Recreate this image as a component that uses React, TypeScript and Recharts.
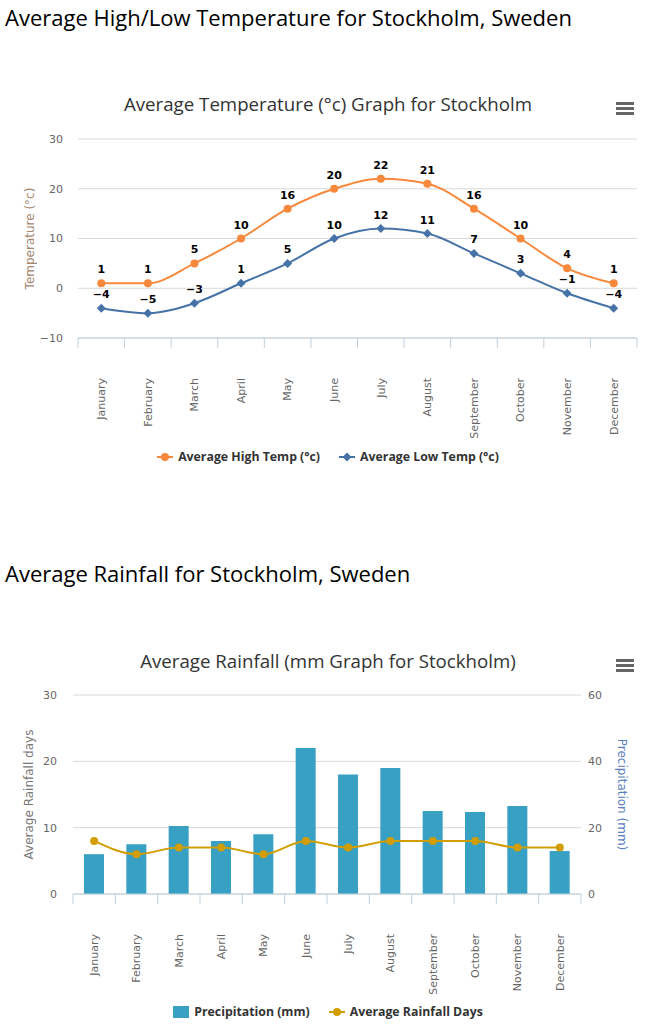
import React from "react";
import {
  Bar,
  CartesianGrid,
  ComposedChart,
  LabelList,
  Line,
  XAxis,
  YAxis,
} from "recharts";

const MONTHS = [
  "January",
  "February",
  "March",
  "April",
  "May",
  "June",
  "July",
  "August",
  "September",
  "October",
  "November",
  "December",
];
const HIGH_TEMP = [1, 1, 5, 10, 16, 20, 22, 21, 16, 10, 4, 1];
const LOW_TEMP = [-4, -5, -3, 1, 5, 10, 12, 11, 7, 3, -1, -4];
const PRECIP_MM = [12, 15, 20.5, 16, 18, 44, 36, 38, 25, 24.7, 26.5, 13];
const RAIN_DAYS = [8, 6, 7, 7, 6, 8, 7, 8, 8, 8, 7, 7];

const TEMP_TICKS = [-10, 0, 10, 20, 30];
const DAYS_TICKS = [0, 10, 20, 30];
const PRECIP_TICKS = [0, 20, 40, 60];

const ORANGE = "#f7883c";
const BLUE = "#4572a7";
const BAR_BLUE = "#38a0c3";
const GOLD = "#d19d00";
const AXIS = "#c0d0e0";
const GRID = "#d8d8d8";
const TICK_FONT = "'DejaVu Sans', Verdana, sans-serif";
const TITLE_FONT = "'Open Sans', sans-serif";

const tempData = MONTHS.map((m, i) => ({ month: m, high: HIGH_TEMP[i], low: LOW_TEMP[i] }));
const rainData = MONTHS.map((m, i) => ({ month: m, precip: PRECIP_MM[i], days: RAIN_DAYS[i] }));

// highcharts-style minus sign
const fmtNum = (v: number) => (v < 0 ? `\u2212${Math.abs(v)}` : `${v}`);

// month labels + boundary tick marks (categories get ticks at their edges, not centres)
function monthTick(band: number) {
  return (props: any) => {
    const { x, y, payload, index } = props;
    return (
      <g>
        <line x1={x - band / 2} y1={y} x2={x - band / 2} y2={y + 10} stroke={AXIS} />
        {index === MONTHS.length - 1 && (
          <line x1={x + band / 2} y1={y} x2={x + band / 2} y2={y + 10} stroke={AXIS} />
        )}
        <text
          transform={`translate(${x},${y + 40}) rotate(-90)`}
          textAnchor="end"
          dy="0.35em"
          fill="#666"
          fontSize={11}
          fontFamily={TICK_FONT}
        >
          {payload.value}
        </text>
      </g>
    );
  };
}

function Diamond(props: any) {
  const { cx, cy } = props;
  if (cx == null || cy == null) return null;
  const r = 4.5;
  return (
    <path
      d={`M${cx} ${cy - r}L${cx + r} ${cy}L${cx} ${cy + r}L${cx - r} ${cy}Z`}
      fill={BLUE}
    />
  );
}

function Hamburger({ top }: { top: number }) {
  return (
    <div style={{ position: "absolute", left: 616, top }}>
      {[0, 1, 2].map((i) => (
        <div
          key={i}
          style={{ width: 18, height: 3, background: "#666", marginBottom: 2 }}
        />
      ))}
    </div>
  );
}

function LegendItem({ kind, color, label, gap = 0 }: { kind: string; color: string; label: string; gap?: number }) {
  return (
    <span style={{ display: "inline-flex", alignItems: "center", marginRight: gap }}>
      <svg width={16} height={12} style={{ marginRight: 5 }}>
        {kind === "rect" ? (
          <rect x={0} y={0} width={16} height={12} fill={color} />
        ) : (
          <>
            <line x1={0} y1={6} x2={16} y2={6} stroke={color} strokeWidth={2} />
            {kind === "circle" ? (
              <circle cx={8} cy={6} r={4} fill={color} />
            ) : (
              <path d="M8 1.5L12.5 6L8 10.5L3.5 6Z" fill={color} />
            )}
          </>
        )}
      </svg>
      <span>{label}</span>
    </span>
  );
}

const headingStyle: React.CSSProperties = {
  position: "absolute",
  left: 5,
  fontFamily: TITLE_FONT,
  fontSize: 22,
  color: "#000",
  whiteSpace: "nowrap",
  lineHeight: "26px",
};

const chartTitleStyle: React.CSSProperties = {
  position: "absolute",
  left: 0,
  width: 656,
  textAlign: "center",
  fontFamily: TITLE_FONT,
  fontSize: 18.7,
  color: "#333",
  lineHeight: "24px",
};

const legendStyle: React.CSSProperties = {
  position: "absolute",
  left: 0,
  width: 656,
  display: "flex",
  justifyContent: "center",
  fontFamily: TITLE_FONT,
  fontWeight: 700,
  fontSize: 12.3,
  color: "#333",
  lineHeight: "16px",
};

const dataLabelStyle = { fill: "#000", fontWeight: 700, fontSize: 11, fontFamily: TICK_FONT };

export default function App() {
  const band1 = 559 / 12;
  const band2 = 508 / 12;
  return (
    <div style={{ position: "absolute", left: 0, top: 0, width: 656, height: 1036, background: "#fff" }}>
      <div style={{ ...headingStyle, top: 4 }}>Average High/Low Temperature for Stockholm, Sweden</div>
      <div style={{ ...chartTitleStyle, top: 92 }}>Average Temperature (°c) Graph for Stockholm</div>
      <Hamburger top={102} />

      <div style={{ position: "absolute", left: 0, top: 0 }}>
        <ComposedChart
          width={656}
          height={440}
          data={tempData}
          margin={{ top: 139, right: 19, left: 0, bottom: 12 }}
        >
          <CartesianGrid vertical={false} stroke={GRID} />
          <XAxis
            dataKey="month"
            scale="band"
            interval={0}
            height={90}
            tickSize={0}
            tickMargin={0}
            tickLine={false}
            axisLine={{ stroke: AXIS }}
            tick={monthTick(band1)}
          />
          <YAxis
            domain={[-10, 30]}
            ticks={TEMP_TICKS}
            width={78}
            tickLine={false}
            axisLine={false}
            tickSize={0}
            tickMargin={15}
            tickFormatter={fmtNum}
            tick={{ fill: "#666", fontSize: 11, fontFamily: TICK_FONT }}
            label={{
              value: "Temperature (°c)",
              angle: -90,
              position: "insideLeft",
              offset: 30,
              style: { textAnchor: "middle", fill: "#a3876f", fontSize: 12, fontFamily: TICK_FONT },
            }}
          />
          <Line
            type="monotone"
            dataKey="high"
            stroke={ORANGE}
            strokeWidth={2}
            dot={{ r: 4, fill: ORANGE, stroke: ORANGE, strokeWidth: 0 }}
            isAnimationActive={false}
          >
            <LabelList dataKey="high" position="top" offset={10} formatter={fmtNum} style={dataLabelStyle} />
          </Line>
          <Line
            type="monotone"
            dataKey="low"
            stroke={BLUE}
            strokeWidth={2}
            dot={<Diamond />}
            isAnimationActive={false}
          >
            <LabelList dataKey="low" position="top" offset={10} formatter={fmtNum} style={dataLabelStyle} />
          </Line>
        </ComposedChart>
      </div>

      <div style={{ ...legendStyle, top: 449 }}>
        <LegendItem kind="circle" color={ORANGE} label="Average High Temp (°c)" gap={19} />
        <LegendItem kind="diamond" color={BLUE} label="Average Low Temp (°c)" />
      </div>

      <div style={{ ...headingStyle, top: 560 }}>Average Rainfall for Stockholm, Sweden</div>
      <div style={{ ...chartTitleStyle, top: 649 }}>Average Rainfall (mm Graph for Stockholm)</div>
      <Hamburger top={659} />

      <div style={{ position: "absolute", left: 0, top: 520 }}>
        <ComposedChart
          width={656}
          height={480}
          data={rainData}
          margin={{ top: 175, right: 0, left: 0, bottom: 16 }}
        >
          <CartesianGrid vertical={false} stroke={GRID} yAxisId="days" />
          <XAxis
            dataKey="month"
            interval={0}
            height={90}
            tickSize={0}
            tickMargin={0}
            tickLine={false}
            axisLine={{ stroke: AXIS }}
            tick={monthTick(band2)}
          />
          <YAxis
            yAxisId="days"
            orientation="left"
            domain={[0, 30]}
            ticks={DAYS_TICKS}
            width={73}
            tickLine={false}
            axisLine={false}
            tickSize={0}
            tickMargin={16}
            tick={{ fill: "#666", fontSize: 11, fontFamily: TICK_FONT }}
            label={{
              value: "Average Rainfall days",
              angle: -90,
              position: "insideLeft",
              offset: 29,
              style: { textAnchor: "middle", fill: "#777", fontSize: 12, fontFamily: TICK_FONT },
            }}
          />
          <YAxis
            yAxisId="precip"
            orientation="right"
            domain={[0, 60]}
            ticks={PRECIP_TICKS}
            width={75}
            tickLine={false}
            axisLine={false}
            tickSize={0}
            tickMargin={7}
            tick={{ fill: "#666", fontSize: 11, fontFamily: TICK_FONT }}
            label={{
              value: "Precipitation (mm)",
              angle: 90,
              position: "insideRight",
              offset: 34,
              style: { textAnchor: "middle", fill: "#5b80bd", fontSize: 12, fontFamily: TICK_FONT },
            }}
          />
          <Bar
            yAxisId="precip"
            dataKey="precip"
            fill={BAR_BLUE}
            barSize={20}
            isAnimationActive={false}
          />
          <Line
            yAxisId="days"
            type="monotone"
            dataKey="days"
            stroke={GOLD}
            strokeWidth={2}
            dot={{ r: 4, fill: GOLD, stroke: GOLD, strokeWidth: 0 }}
            isAnimationActive={false}
          />
        </ComposedChart>
      </div>

      <div style={{ ...legendStyle, top: 1004 }}>
        <LegendItem kind="rect" color={BAR_BLUE} label="Precipitation (mm)" gap={19} />
        <LegendItem kind="circle" color={GOLD} label="Average Rainfall Days" />
      </div>
    </div>
  );
}
